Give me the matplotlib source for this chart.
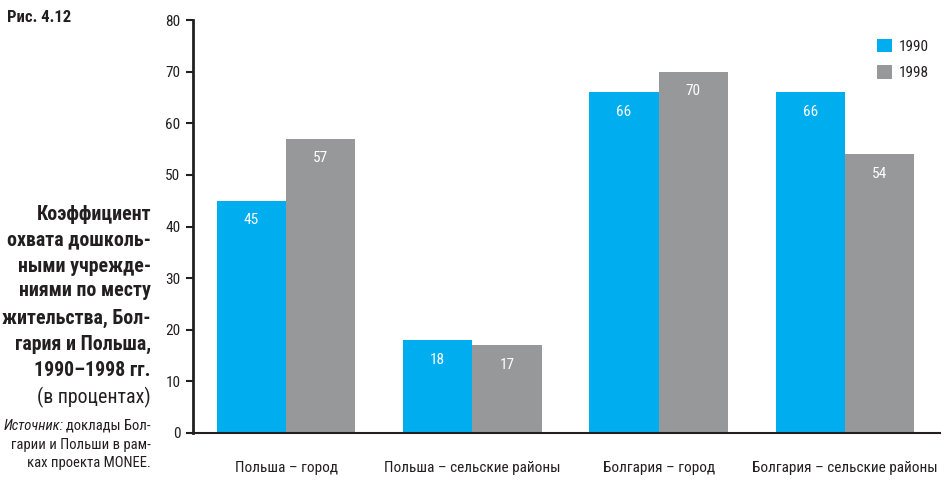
import numpy as np
import matplotlib.pyplot as plt

plt.rcParams['font.family'] = ['Roboto Condensed', 'DejaVu Sans']

categories = ['Польша – город', 'Польша – сельские районы', 'Болгария – город', 'Болгария – сельские районы']
years = ['1990', '1998']
v1990 = [45, 18, 66, 66]
v1998 = [57, 17, 70, 54]
yticks = [0, 10, 20, 30, 40, 50, 60, 70, 80]

blue = '#00aeef'
grey = '#97989a'
ink = '#231f20'

fig = plt.figure(figsize=(9.5, 4.82), dpi=100)
ax = fig.add_axes([193/950, 49/482, 747/950, 413/482])

x = np.arange(len(categories))
w = 0.372
b1 = ax.bar(x - w/2, v1990, w, color=blue, label=years[0])
b2 = ax.bar(x + w/2, v1998, w, color=grey, label=years[1])

for bars, vals in ((b1, v1990), (b2, v1998)):
    for r, v in zip(bars, vals):
        ax.annotate(str(v), (r.get_x() + r.get_width()/2, v), xytext=(0, -14),
                    textcoords='offset points', ha='center', va='center',
                    color='white', fontsize=11)

ax.set_xlim(-0.5, 3.51)
ax.set_ylim(0, 80)
ax.set_yticks(yticks)
ax.set_xticks(x)
ax.set_xticklabels(categories, fontsize=11, color=ink)
ax.tick_params(axis='x', length=0, pad=20)
ax.tick_params(axis='y', length=5, width=1.5, color=ink, labelsize=11, labelcolor=ink, pad=4)
for s in ('top', 'right'):
    ax.spines[s].set_visible(False)
ax.spines['left'].set_linewidth(2)
ax.spines['left'].set_color(ink)
ax.spines['bottom'].set_linewidth(1.5)
ax.spines['bottom'].set_color(ink)

ax.legend(loc='upper left', bbox_to_anchor=(0.9157, 0.955), frameon=False,
          fontsize=11, handlelength=1.0, handleheight=1.0, handletextpad=0.45,
          labelspacing=0.75, borderpad=0, borderaxespad=0, labelcolor=ink)

fig.text(7/950, 1 - 17/482, 'Рис. 4.12', fontsize=12, fontweight='bold', color=ink, va='center')

title_lines = ['Коэффициент', 'охвата дошколь-', 'ными учрежде-', 'ниями по месту',
               'жительства, Бол-', 'гария и Польша,', '1990–1998 гг.']
ys = [214, 240, 266, 291, 318, 344, 371]
for t, y in zip(title_lines, ys):
    fig.text(151/950, 1 - y/482, t, fontsize=14.3, fontweight='bold', color=ink,
             ha='right', va='center')
fig.text(151/950, 1 - 397/482, '(в процентах)', fontsize=14.3, color=ink, ha='right', va='center')

src = fig.text(151/950, 1 - 426/482, 'доклады Бол-', fontsize=10.5, color=ink, ha='right', va='center')
fig.text(151/950, 1 - 445/482, 'гарии и Польши в рам-', fontsize=10.5, color=ink, ha='right', va='center')
fig.text(151/950, 1 - 463/482, 'ках проекта MONEE.', fontsize=10.5, color=ink, ha='right', va='center')

fig.canvas.draw()
bb = src.get_window_extent()
fig.text((bb.x0 - 3) / fig.bbox.width, 1 - 426/482, 'Источник:', fontsize=10.5, color=ink,
         style='italic', ha='right', va='center')

fig.savefig('out.png', dpi=100)
